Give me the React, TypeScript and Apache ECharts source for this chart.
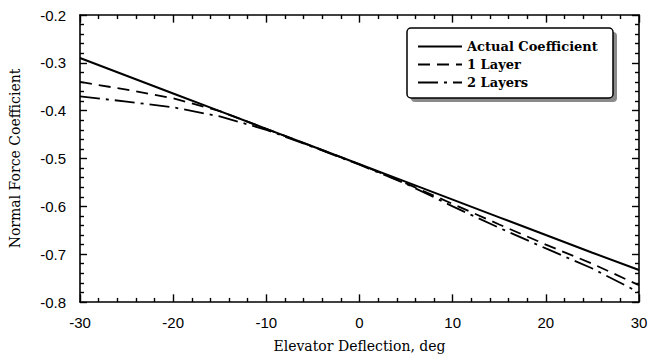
import React, { useEffect, useRef } from "react";
import * as echarts from "echarts";

const deflection = [-30, -25, -20, -15, -10, -5, 0, 5, 10, 15, 20, 25, 30];
const actualCoefficient = [-0.29, -0.327, -0.364, -0.401, -0.438, -0.475, -0.512, -0.549, -0.586, -0.623, -0.66, -0.697, -0.733];
const oneLayer = [-0.34, -0.356, -0.374, -0.401, -0.438, -0.475, -0.512, -0.552, -0.595, -0.638, -0.68, -0.72, -0.765];
const twoLayers = [-0.37, -0.381, -0.393, -0.412, -0.44, -0.476, -0.513, -0.553, -0.6, -0.645, -0.688, -0.73, -0.78];
const seriesNames = ["Actual Coefficient", "1 Layer", "2 Layers"];

const xMajorTicks = [-30, -20, -10, 0, 10, 20, 30];
const xMinorTicks = [-28, -26, -24, -22, -18, -16, -14, -12, -8, -6, -4, -2, 2, 4, 6, 8, 12, 14, 16, 18, 22, 24, 26, 28];
const yMajorTicks = [-0.8, -0.7, -0.6, -0.5, -0.4, -0.3, -0.2];
const yMinorTicks = [-0.78, -0.76, -0.74, -0.72, -0.68, -0.66, -0.64, -0.62, -0.58, -0.56, -0.54, -0.52, -0.48, -0.46, -0.44, -0.42, -0.38, -0.36, -0.34, -0.32, -0.28, -0.26, -0.24, -0.22];

const X_MIN = -30, X_MAX = 30, Y_MIN = -0.8, Y_MAX = -0.2;

const SERIF = "'DejaVu Serif', serif";
const SANS = "'Liberation Sans', Arial, sans-serif";

function makeAxis(extra: any) {
  return {
    type: "value",
    axisLine: { show: true, onZero: false, lineStyle: { color: "#000", width: 1.6 } },
    axisTick: { show: false },
    minorTick: { show: false },
    splitLine: { show: false },
    minorSplitLine: { show: false },
    ...extra,
  };
}

export default function App() {
  const ref = useRef<HTMLDivElement>(null);
  useEffect(() => {
    document.body.style.margin = "0";
    const chart = echarts.init(ref.current!, null, { renderer: "svg" });
    const pair = (ys: number[]) => deflection.map((x, i) => [x, ys[i]]);
    const xTick = (v: number, y0: number, dy: number) => [{ coord: [v, y0] }, { coord: [v, y0 + dy] }];
    const yTick = (v: number, x0: number, dx: number) => [{ coord: [x0, v] }, { coord: [x0 + dx, v] }];
    const major = 0.016;
    const minor = 0.0085;
    const majorX = 0.75;
    const minorX = 0.43;
    const tickLines = [
      ...xMajorTicks.map((v) => xTick(v, Y_MIN, major)),
      ...xMinorTicks.map((v) => xTick(v, Y_MIN, minor)),
      ...xMajorTicks.map((v) => xTick(v, Y_MAX, -major)),
      ...xMinorTicks.map((v) => xTick(v, Y_MAX, -minor)),
      ...yMajorTicks.map((v) => yTick(v, X_MIN, majorX)),
      ...yMinorTicks.map((v) => yTick(v, X_MIN, minorX)),
      ...yMajorTicks.map((v) => yTick(v, X_MAX, -majorX)),
      ...yMinorTicks.map((v) => yTick(v, X_MAX, -minorX)),
    ];
    chart.setOption({
      animation: false,
      backgroundColor: "#fff",
      grid: { left: 80, top: 15, width: 559, height: 288 },
      xAxis: [
        makeAxis({
          min: X_MIN,
          max: X_MAX,
          interval: 10,
          position: "bottom",
          axisLabel: { show: true, color: "#000", fontFamily: SANS, fontSize: 15, margin: 13 },
          name: "Elevator Deflection, deg",
          nameLocation: "middle",
          nameGap: 37,
          nameTextStyle: { color: "#000", fontFamily: SERIF, fontSize: 14 },
        }),
        makeAxis({ min: X_MIN, max: X_MAX, interval: 10, position: "top", axisLabel: { show: false } }),
      ],
      yAxis: [
        makeAxis({
          min: Y_MIN,
          max: Y_MAX,
          interval: 0.1,
          position: "left",
          axisLabel: { show: true, color: "#000", fontFamily: SANS, fontSize: 15, margin: 14, formatter: (v: number) => v.toFixed(1) },
          name: "Normal Force Coefficient",
          nameLocation: "middle",
          nameGap: 58,
          nameRotate: 90,
          nameTextStyle: { color: "#000", fontFamily: SERIF, fontSize: 14 },
        }),
        makeAxis({ min: Y_MIN, max: Y_MAX, interval: 0.1, position: "right", axisLabel: { show: false } }),
      ],
      legend: {
        data: seriesNames,
        left: 412,
        top: 35,
        orient: "vertical",
        itemWidth: 44,
        itemHeight: 14,
        itemGap: 5,
        z: 10,
        itemStyle: { opacity: 0 },
        textStyle: { color: "#000", fontFamily: SERIF, fontSize: 13, fontWeight: "bold" },
      },
      graphic: [
        { type: "rect", z: 5, shape: { x: 411, y: 32, width: 206, height: 70, r: 4 }, style: { fill: "#8a8a8a" } },
        { type: "rect", z: 6, shape: { x: 407, y: 28, width: 206, height: 70, r: 4 }, style: { fill: "#fff", stroke: "#000", lineWidth: 1.5 } },
      ],
      series: [
        {
          name: seriesNames[0],
          type: "line",
          data: pair(actualCoefficient),
          showSymbol: false,
          symbol: "none",
          itemStyle: { color: "#000" },
          lineStyle: { color: "#000", width: 2, type: "solid" },
          z: 3,
          markLine: {
            silent: true,
            symbol: ["none", "none"],
            label: { show: false },
            lineStyle: { color: "#000", width: 1.4, type: "solid", opacity: 1 },
            emphasis: { disabled: true },
            data: tickLines,
          },
        },
        {
          name: seriesNames[1],
          type: "line",
          data: pair(oneLayer),
          showSymbol: false,
          symbol: "none",
          itemStyle: { color: "#000" },
          lineStyle: { color: "#000", width: 1.8, type: [12, 7] },
          z: 3,
        },
        {
          name: seriesNames[2],
          type: "line",
          data: pair(twoLayers),
          showSymbol: false,
          symbol: "none",
          itemStyle: { color: "#000" },
          lineStyle: { color: "#000", width: 1.8, type: [20, 6, 3, 6] },
          z: 3,
        },
      ],
    });
    return () => chart.dispose();
  }, []);
  return <div ref={ref} style={{ width: 651, height: 358 }} />;
}
